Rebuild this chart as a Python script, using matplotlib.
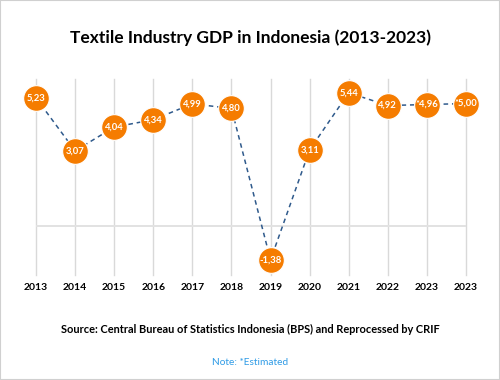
import matplotlib
matplotlib.use("Agg")
import matplotlib.pyplot as plt
from matplotlib.patches import Rectangle

years = ["2013", "2014", "2015", "2016", "2017", "2018", "2019", "2020", "2021", "2022", "2023", "2023"]
values = [5.23, 3.07, 4.04, 4.34, 4.99, 4.80, -1.38, 3.11, 5.44, 4.92, 4.96, 5.00]
labels = ["5,23", "3,07", "4,04", "4,34", "4,99", "4,80", "-1,38", "3,11", "5,44", "4,92", "*4,96", "*5,00"]

plt.rcParams['font.family'] = ['Lato', 'DejaVu Sans']

fig = plt.figure(figsize=(5.0, 3.8), dpi=100)
fig.patches.append(Rectangle((0, 0), 1, 1, transform=fig.transFigure, fill=False,
                             edgecolor='#d0d0d0', linewidth=1.5))
ax = fig.add_axes([0.072, 0.276, 0.86, 0.516])
x = list(range(len(years)))
ax.set_xlim(0, len(years) - 1)
ax.set_ylim(-2, 6)
for xi in x:
    ax.axvline(xi, color='#d9d9d9', linewidth=1.0, zorder=0, clip_on=False)
ax.axhline(0, color='#e2e2e2', linewidth=1.4, zorder=0)
ax.plot(x, values, linestyle=(0, (3, 2.5)), color='#2F5A8C', linewidth=1.1, zorder=2, clip_on=False)
ax.plot(x, values, linestyle='none', marker='o', markersize=18.5, markerfacecolor='#F57C00',
        markeredgecolor='white', markeredgewidth=0.8, zorder=3, clip_on=False)
for xi, v, lab in zip(x, values, labels):
    ax.text(xi, v, lab, ha='center', va='center', color='white', fontsize=6.8,
            fontweight='bold', zorder=4)
for s in ax.spines.values():
    s.set_visible(False)
ax.set_yticks([])
ax.set_xticks(x)
ax.set_xticklabels(years, fontsize=7.5, fontweight='bold')
ax.tick_params(axis='x', length=0, pad=6)

fig.text(0.5, 0.902, "Textile Industry GDP in Indonesia (2013-2023)", ha='center', va='center',
         fontsize=12.5, fontweight='bold')
fig.text(0.5, 0.132, "Source: Central Bureau of Statistics Indonesia (BPS) and Reprocessed by CRIF",
         ha='center', va='center', fontsize=7.9, fontweight='bold')
fig.text(0.5, 0.047, "Note: *Estimated", ha='center', va='center', fontsize=7.3, color='#2E9BE6')

fig.savefig("out.png", dpi=100)
